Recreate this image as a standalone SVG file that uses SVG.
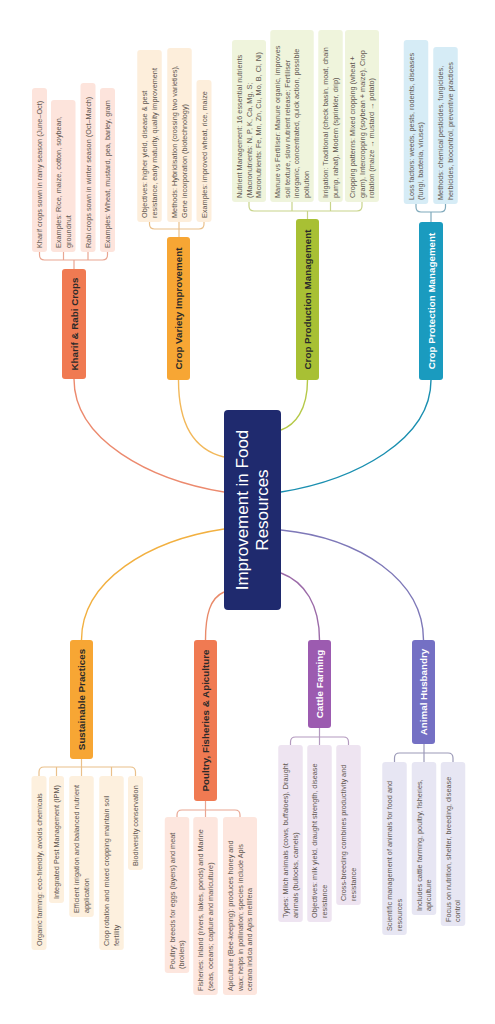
<svg xmlns="http://www.w3.org/2000/svg" width="495" height="1024" viewBox="0 0 495 1024">
<style>
text{font-family:"Liberation Sans",Arial,sans-serif}
.leaf text{font-size:7.3px;fill:#5f5650}
.leaf rect{rx:3px}
.br rect{rx:3px}
.br text{font-size:9.8px;font-weight:bold;text-anchor:middle;fill:#2a2a2a}
.br text.w{fill:#ffffff}
.con path{fill:none;stroke-width:1.4}
.brk path{fill:none;stroke-width:1.2}
.kr rect{fill:#fde4dc}
.cv rect{fill:#fdeedb}
.cp rect{fill:#eff4dc}
.pr rect{fill:#d6ecf6}
.sp rect{fill:#fdf0de}
.po rect{fill:#fde6de}
.cf rect{fill:#eee4f1}
.ah rect{fill:#e7e6f3}
</style>
<rect width="495" height="1024" fill="#ffffff"/>

<g id="connectors" class="con">
<path d="M74,379 C74,440 150,480 224,492" stroke="#ec8a6e"/>
<path d="M178.5,380 C178.5,425 195,450 224,457" stroke="#f2b85a"/>
<path d="M307.5,380 C307.5,410 295,425 281,430" stroke="#b5c948"/>
<path d="M431,380 C431,440 355,480 281,492" stroke="#1a8fb0"/>
<path d="M81.5,640 C81.5,580 150,540 224,529" stroke="#f2b040"/>
<path d="M205.5,640 C205.5,615 210,598 224,592" stroke="#e98a6a"/>
<path d="M319.5,640 C319.5,605 305,582 281,573" stroke="#9b6aa8"/>
<path d="M423.5,640 C423.5,580 360,538 281,530" stroke="#7e78b8"/>
</g>
<g id="brackets" class="brk">
<path d="M39.5,252 v3 q0,5 5,5 H102.5 q5,0 5,-5 v-3 M63.5,252 v8 M88,252 v8 M74,260 v9" stroke="#e9a692"/>
<path d="M149.5,222 v2 q0,5 5,5 H199 q5,0 5,-5 v-2 M179,222 v15" stroke="#eac08a"/>
<path d="M249,202 v4 q0,5 5,5 H357 q5,0 5,-5 v-4 M292,202 v9 M330.5,202 v9 M307.5,211 v8" stroke="#c8d48a"/>
<path d="M416,204 v3 q0,5 5,5 H440.5 q5,0 5,-5 v-3 M431,212 v10" stroke="#7fa9bb"/>
<path d="M39,776 v-4 q0,-5 5,-5 H130.5 q5,0 5,5 v4 M56.5,767 v9 M111.5,767 v9 M81.5,759 v17" stroke="#eac08a"/>
<path d="M177,817 v-2 q0,-5 5,-5 H235 q5,0 5,5 v2 M205.5,801 v16" stroke="#e9a692"/>
<path d="M290.5,745 v-3 q0,-5 5,-5 H343.5 q5,0 5,5 v3 M319.5,728 v17" stroke="#b49abf"/>
<path d="M394.5,762 v-4 q0,-5 5,-5 H448 q5,0 5,5 v4 M424,744 v18" stroke="#9c9ab8"/>
</g>

<g id="center" transform="translate(224,610) rotate(-90)">
<rect width="200" height="57" rx="4" fill="#1f2a6e"/>
<text x="100" y="23.5" font-size="17" fill="#ffffff" text-anchor="middle">Improvement in Food</text>
<text x="100" y="43.5" font-size="17" fill="#ffffff" text-anchor="middle">Resources</text>
</g>

<g id="kharif" class="br" transform="translate(62,379) rotate(-90)"><rect width="110" height="24" fill="#f07a52"/><text x="55" y="15.5">Kharif &amp; Rabi Crops</text></g>
<g id="variety" class="br" transform="translate(167,380) rotate(-90)"><rect width="143" height="23" fill="#f7a634"/><text x="71.5" y="15">Crop Variety Improvement</text></g>
<g id="production" class="br" transform="translate(296,380) rotate(-90)"><rect width="161" height="23" fill="#a8c034"/><text x="80.5" y="15">Crop Production Management</text></g>
<g id="protection" class="br" transform="translate(419,380) rotate(-90)"><rect width="158" height="24" fill="#1a9bbf"/><text class="w" x="79" y="15.5">Crop Protection Management</text></g>
<g id="sustainable" class="br" transform="translate(70,759) rotate(-90)"><rect width="119" height="23" fill="#f7a634"/><text x="59.5" y="15">Sustainable Practices</text></g>
<g id="poultry" class="br" transform="translate(194,801) rotate(-90)"><rect width="161" height="23" fill="#f07a52"/><text x="80.5" y="15">Poultry, Fisheries &amp; Apiculture</text></g>
<g id="cattle" class="br" transform="translate(308,728) rotate(-90)"><rect width="88" height="23" fill="#9c5bb0"/><text class="w" x="44" y="15">Cattle Farming</text></g>
<g id="husbandry" class="br" transform="translate(412,744) rotate(-90)"><rect width="104" height="23" fill="#7470c4"/><text class="w" x="52" y="15">Animal Husbandry</text></g>

<g class="leaf kr">
<g id="k1" transform="translate(32,252) rotate(-90)"><rect width="164" height="15"/><text x="4" y="10">Kharif crops sown in rainy season (June–Oct)</text></g>
<g id="k2" transform="translate(51,252) rotate(-90)"><rect width="152" height="24.5"/><text x="4" y="10">Examples: Rice, maize, cotton, soybean,<tspan x="4" y="19.5">groundnut</tspan></text></g>
<g id="k3" transform="translate(80.5,252) rotate(-90)"><rect width="169" height="15"/><text x="4" y="10">Rabi crops sown in winter season (Oct–March)</text></g>
<g id="k4" transform="translate(100,252) rotate(-90)"><rect width="164" height="15"/><text x="4" y="10">Examples: Wheat, mustard, pea, barley, gram</text></g>
</g>
<g class="leaf cv">
<g id="v1" transform="translate(137.25,222) rotate(-90)"><rect width="172" height="24.5"/><text x="4" y="10">Objectives: higher yield, disease &amp; pest<tspan x="4" y="19.5">resistance, early maturity, quality improvement</tspan></text></g>
<g id="v2" transform="translate(167.25,222) rotate(-90)"><rect width="174" height="24.5"/><text x="4" y="10">Methods: Hybridisation (crossing two varieties),<tspan x="4" y="19.5">Gene incorporation (biotechnology)</tspan></text></g>
<g id="v3" transform="translate(196.5,222) rotate(-90)"><rect width="142" height="15"/><text x="4" y="10">Examples: improved wheat, rice, maize</text></g>
</g>
<g class="leaf cp">
<g id="p1" transform="translate(232,202) rotate(-90)"><rect width="162" height="34"/><text x="4" y="10">Nutrient Management: 16 essential nutrients<tspan x="4" y="19.5">(Macronutrients: N, P, K, Ca, Mg, S;</tspan><tspan x="4" y="29">Micronutrients: Fe, Mn, Zn, Cu, Mo, B, Cl, Ni)</tspan></text></g>
<g id="p2" transform="translate(270.25,202) rotate(-90)"><rect width="172" height="43.5"/><text x="4" y="10">Manure vs Fertiliser: Manure organic, improves<tspan x="4" y="19.5">soil texture, slow nutrient release; Fertiliser</tspan><tspan x="4" y="29">inorganic, concentrated, quick action, possible</tspan><tspan x="4" y="38.5">pollution</tspan></text></g>
<g id="p3" transform="translate(318.25,202) rotate(-90)"><rect width="172" height="24.5"/><text x="4" y="10">Irrigation: Traditional (check basin, moat, chain<tspan x="4" y="19.5">pump, rahat), Modern (sprinkler, drip)</tspan></text></g>
<g id="p4" transform="translate(345,202) rotate(-90)"><rect width="172" height="34"/><text x="4" y="10">Cropping patterns: Mixed cropping (wheat +<tspan x="4" y="19.5">gram), Intercropping (soybean + maize), Crop</tspan><tspan x="4" y="29">rotation (maize → mustard → potato)</tspan></text></g>
</g>
<g class="leaf pr">
<g id="r1" transform="translate(403.75,204) rotate(-90)"><rect width="164" height="24.5"/><text x="4" y="10">Loss factors: weeds, pests, rodents, diseases<tspan x="4" y="19.5">(fungi, bacteria, viruses)</tspan></text></g>
<g id="r2" transform="translate(433.25,204) rotate(-90)"><rect width="157" height="24.5"/><text x="4" y="10">Methods: chemical pesticides, fungicides,<tspan x="4" y="19.5">herbicides, biocontrol, preventive practices</tspan></text></g>
</g>
<g class="leaf sp">
<g id="s1" transform="translate(31.5,950) rotate(-90)"><rect width="174" height="15"/><text x="4" y="10">Organic farming: eco-friendly, avoids chemicals</text></g>
<g id="s2" transform="translate(49,903) rotate(-90)"><rect width="127" height="15"/><text x="4" y="10">Integrated Pest Management (IPM)</text></g>
<g id="s3" transform="translate(69.25,917) rotate(-90)"><rect width="141" height="24.5"/><text x="4" y="10">Efficient irrigation and balanced nutrient<tspan x="4" y="19.5">application</tspan></text></g>
<g id="s4" transform="translate(99.25,950) rotate(-90)"><rect width="174" height="24.5"/><text x="4" y="10">Crop rotation and mixed cropping maintain soil<tspan x="4" y="19.5">fertility</tspan></text></g>
<g id="s5" transform="translate(128,870) rotate(-90)"><rect width="94" height="15"/><text x="4" y="10">Biodiversity conservation</text></g>
</g>
<g class="leaf po">
<g id="o1" transform="translate(164.75,973) rotate(-90)"><rect width="156" height="24.5"/><text x="4" y="10">Poultry: breeds for eggs (layers) and meat<tspan x="4" y="19.5">(broilers)</tspan></text></g>
<g id="o2" transform="translate(193.25,995) rotate(-90)"><rect width="178" height="24.5"/><text x="4" y="10">Fisheries: Inland (rivers, lakes, ponds) and Marine<tspan x="4" y="19.5">(seas, oceans; capture and mariculture)</tspan></text></g>
<g id="o3" transform="translate(223,995) rotate(-90)"><rect width="178" height="34"/><text x="4" y="10">Apiculture (Bee-keeping): produces honey and<tspan x="4" y="19.5">wax; helps in pollination; species include Apis</tspan><tspan x="4" y="29">cerana indica and Apis mellifera</tspan></text></g>
</g>
<g class="leaf cf">
<g id="c1" transform="translate(278.25,922) rotate(-90)"><rect width="177" height="24.5"/><text x="4" y="10">Types: Milch animals (cows, buffaloes), Draught<tspan x="4" y="19.5">animals (bullocks, camels)</tspan></text></g>
<g id="c2" transform="translate(307.25,922) rotate(-90)"><rect width="177" height="24.5"/><text x="4" y="10">Objectives: milk yield, draught strength, disease<tspan x="4" y="19.5">resistance</tspan></text></g>
<g id="c3" transform="translate(336.25,905) rotate(-90)"><rect width="160" height="24.5"/><text x="4" y="10">Cross-breeding combines productivity and<tspan x="4" y="19.5">resistance</tspan></text></g>
</g>
<g class="leaf ah">
<g id="a1" transform="translate(382.25,935) rotate(-90)"><rect width="173" height="24.5"/><text x="4" y="10">Scientific management of animals for food and<tspan x="4" y="19.5">resources</tspan></text></g>
<g id="a2" transform="translate(411.75,915) rotate(-90)"><rect width="153" height="24.5"/><text x="4" y="10">Includes cattle farming, poultry, fisheries,<tspan x="4" y="19.5">apiculture</tspan></text></g>
<g id="a3" transform="translate(440.75,926) rotate(-90)"><rect width="164" height="24.5"/><text x="4" y="10">Focus on nutrition, shelter, breeding, disease<tspan x="4" y="19.5">control</tspan></text></g>
</g>
</svg>
